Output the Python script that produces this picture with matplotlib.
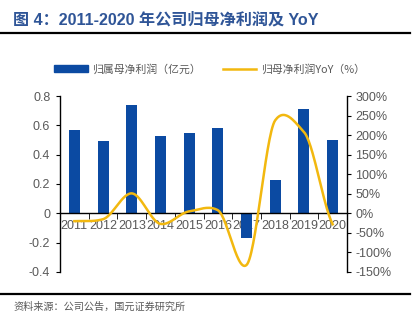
import numpy as np
import matplotlib
matplotlib.use('Agg')
import matplotlib.pyplot as plt
from matplotlib.lines import Line2D
from matplotlib.patches import Patch

plt.rcParams['font.family'] = ['Liberation Sans', 'Noto Sans CJK SC', 'DejaVu Sans']

years = ['2011', '2012', '2013', '2014', '2015', '2016', '2017', '2018', '2019', '2020']
net_profit = [0.57, 0.49, 0.74, 0.53, 0.55, 0.58, -0.17, 0.23, 0.71, 0.50]   # 亿元
yoy = [-20, -15, 51, -27, 5, 8, -132, 238, 208, -28]                       # %

bar_color = '#0B4AA2'
line_color = '#F2B80F'
text_gray = '#595959'


def smooth(xs, ys, k=0.6, n=30):
    # hermite curve through the points, like excel's smoothed line
    xs = np.asarray(xs, float)
    ys = np.asarray(ys, float)
    m = np.zeros_like(ys)
    m[1:-1] = (ys[2:] - ys[:-2]) / 2 * k
    m[0] = (ys[1] - ys[0]) * k
    m[-1] = (ys[-1] - ys[-2]) * k
    out_x, out_y = [], []
    for i in range(len(xs) - 1):
        t = np.linspace(0, 1, n, endpoint=False)
        h00 = 2 * t**3 - 3 * t**2 + 1
        h10 = t**3 - 2 * t**2 + t
        h01 = -2 * t**3 + 3 * t**2
        h11 = t**3 - t**2
        out_x.extend(xs[i] + t * (xs[i + 1] - xs[i]))
        out_y.extend(h00 * ys[i] + h10 * m[i] + h01 * ys[i + 1] + h11 * m[i + 1])
    out_x.append(xs[-1])
    out_y.append(ys[-1])
    return np.array(out_x), np.array(out_y)


fig = plt.figure(figsize=(4.19, 3.26), dpi=100)
ax = fig.add_axes([60 / 419, 54 / 326, 287 / 419, 176 / 326])
ax2 = ax.twinx()

x = np.arange(len(years))
ax.bar(x, net_profit, width=0.38, color=bar_color, zorder=2)
sx, sy = smooth(x, yoy)
ax2.plot(sx, sy, color=line_color, lw=1.8, zorder=3)

ax.set_xlim(-0.5, len(years) - 0.5)
ax.set_ylim(-0.4, 0.8)
ax.set_yticks([-0.4, -0.2, 0, 0.2, 0.4, 0.6, 0.8])
ax.set_yticklabels(['-0.4', '-0.2', '0', '0.2', '0.4', '0.6', '0.8'])
ax2.set_ylim(-150, 300)
ax2.set_yticks(range(-150, 301, 50))
ax2.set_yticklabels([f'{v}%' for v in range(-150, 301, 50)])

for a in (ax, ax2):
    a.spines['top'].set_visible(False)
ax.spines['right'].set_visible(False)
ax2.spines['bottom'].set_visible(False)
ax2.spines['left'].set_visible(False)
ax.spines['bottom'].set_position(('data', 0))
for sp in (ax.spines['left'], ax.spines['bottom'], ax2.spines['right']):
    sp.set_color('black')
    sp.set_linewidth(1)

ax.set_xticks(x)
ax.set_xticklabels(years)
ax.set_xticks(np.arange(0.5, len(years) - 1, 1), minor=True)
ax.tick_params(axis='x', which='major', length=0, pad=5, labelsize=9, labelcolor=text_gray)
ax.tick_params(axis='x', which='minor', length=4, direction='out', color='black')
ax.tick_params(axis='y', length=3, direction='out', labelsize=9, labelcolor=text_gray, pad=4)
ax2.tick_params(axis='y', length=3, direction='out', labelsize=9, labelcolor=text_gray, pad=3)

handles = [Patch(color=bar_color), Line2D([0], [0], color=line_color, lw=1.8)]
fig.legend(handles, ['归属母净利润（亿元）', '归母净利润YoY（%）'],
           loc='center', bbox_to_anchor=(0.5, 1 - 69 / 326), ncol=2, frameon=False,
           fontsize=7.8, labelcolor=text_gray, handlelength=3.1, handleheight=0.6,
           columnspacing=2.0, handletextpad=0.4,
           prop={'family': ['Noto Sans CJK SC', 'DejaVu Sans'], 'size': 7.8})

fig.text(13 / 419, 1 - 20 / 326, '图 4：2011-2020 年公司归母净利润及 YoY', fontsize=11.6,
         fontweight='bold', color='#2F5597', va='center', ha='left')
fig.add_artist(Line2D([0, 410 / 419], [1 - 32.5 / 326] * 2, color='black', lw=1.6))
fig.add_artist(Line2D([0, 410 / 419], [1 - 294 / 326] * 2, color='black', lw=1.6))
fig.text(13 / 419, 1 - 307 / 326, '资料来源：公司公告，国元证券研究所', fontsize=7.3,
         color=text_gray, va='center', ha='left',
         family=['Noto Sans CJK SC', 'DejaVu Sans'])

fig.savefig('out.png', dpi=100)
